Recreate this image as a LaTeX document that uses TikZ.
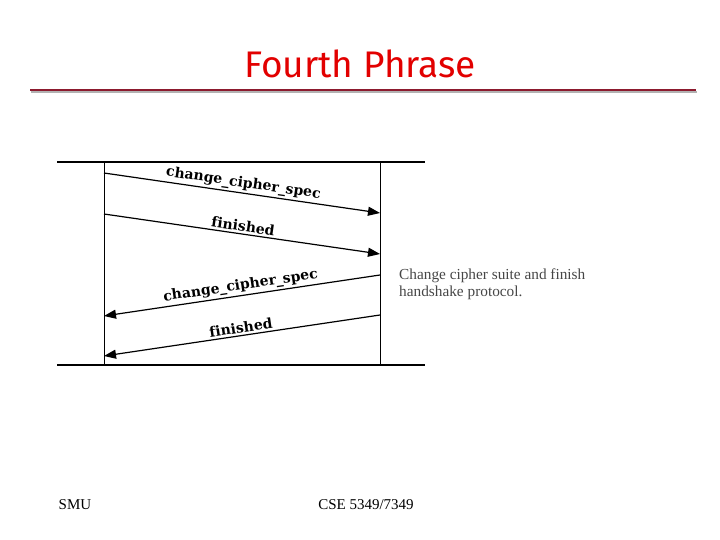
\documentclass[tikz,border=0pt]{standalone}
\usepackage{fontspec}
\setmainfont{Liberation Serif}
\newfontfamily\titlefont{Fira Sans}
\newfontfamily\labfont[Ligatures=NoCommon]{DejaVu Serif}
\usetikzlibrary{arrows.meta}
\definecolor{titlered}{RGB}{226,0,0}
\definecolor{rulered}{RGB}{140,26,46}
\definecolor{notegray}{RGB}{70,70,70}
\tikzset{
  msg/.style={line width=1.2pt,-{Triangle[length=12pt,width=9pt]}},
  msglabel/.style={font=\labfont\bfseries\fontsize{14}{16}\selectfont,sloped,above,inner sep=2pt,midway},
  lifeline/.style={line width=0.8pt},
  foot/.style={font=\fontsize{15}{17}\selectfont,anchor=base}
}
\begin{document}
\begin{tikzpicture}[x=1pt,y=-1pt]
\useasboundingbox (0,0) rectangle (720,540);
% title
\node[font=\titlefont\fontsize{37}{40}\selectfont,text=titlered,anchor=base] (title) at (360,78) {Fourth Phrase};
\draw[line width=2.5pt,gray!60] (31,92) -- (697,92);
\draw[line width=2.5pt,rulered] (30,90) -- (696,90);
% frame lines
\coordinate (tl) at (57,162); \coordinate (tr) at (425,162);
\coordinate (bl) at (57,365); \coordinate (br) at (425,365);
\coordinate (lt) at (104,162); \coordinate (lb) at (104,365);
\coordinate (rt) at (380,162); \coordinate (rb) at (380,365);
\draw[line width=1.2pt] (tl) -- (tr);
\draw[line width=2.2pt] (bl) -- (br);
\draw[lifeline] (lt) -- (lb);
\draw[lifeline] (rt) -- (rb);
% messages
\coordinate (a1) at (104,173); \coordinate (b1) at (380,213);
\coordinate (a2) at (104,214); \coordinate (b2) at (380,254);
\coordinate (a3) at (380,275); \coordinate (b3) at (104,316);
\coordinate (a4) at (380,315); \coordinate (b4) at (104,356);
\draw[msg] (a1) -- node[msglabel] {change\_cipher\_spec} (b1);
\draw[msg] (a2) -- node[msglabel] {finished} (b2);
\draw[msg] (a3) -- node[msglabel] {change\_cipher\_spec} (b3);
\draw[msg] (a4) -- node[msglabel] {finished} (b4);
% note
\node[anchor=north west,align=left,text=notegray,font=\fontsize{15.3}{17}\selectfont,inner sep=0pt] (note) at (399,269) {Change cipher suite and finish\\handshake protocol.};
% footer
\node[foot] (smu) at (75,509) {SMU};
\node[foot] (cse) at (366,509) {CSE 5349/7349};
\end{tikzpicture}
\end{document}
